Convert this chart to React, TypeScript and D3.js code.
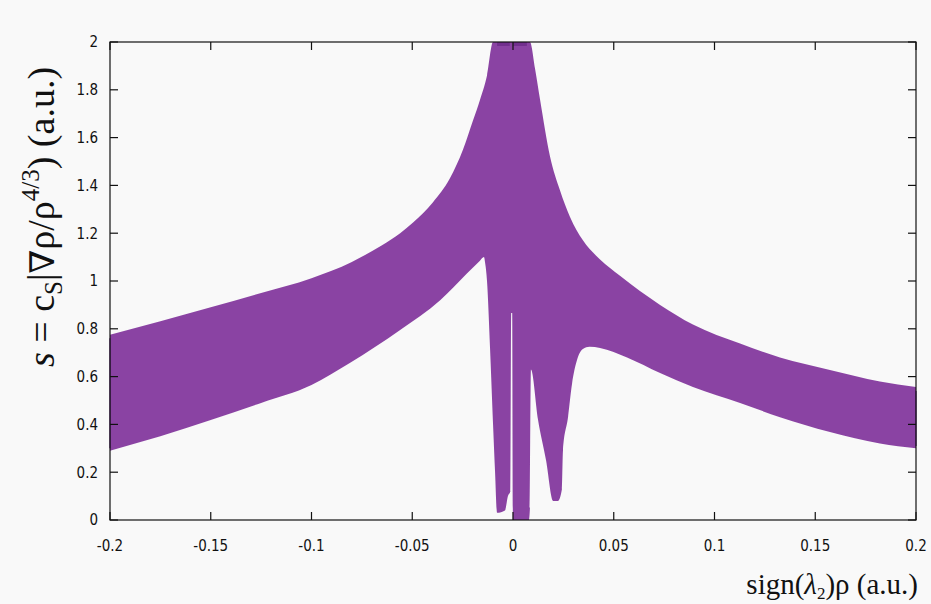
import React from 'react';
import * as d3 from 'd3';

// ---- data ----
const xTicks = [-0.2, -0.15, -0.1, -0.05, 0, 0.05, 0.1, 0.15, 0.2];
const xTickLabels = ['-0.2', '-0.15', '-0.1', '-0.05', '0', '0.05', '0.1', '0.15', '0.2'];
const yTicks = [0, 0.2, 0.4, 0.6, 0.8, 1, 1.2, 1.4, 1.6, 1.8, 2];
const yTickLabels = ['0', '0.2', '0.4', '0.6', '0.8', '1', '1.2', '1.4', '1.6', '1.8', '2'];

// upper envelope of the scattered points (sign(l2)rho, s)
const upperX = [-0.2, -0.175, -0.15, -0.125, -0.1, -0.08, -0.065, -0.056, -0.0496, -0.0397, -0.0313, -0.0248, -0.0199, -0.0164, -0.0129, -0.0099,
  0.0084, 0.0109, 0.0134, 0.0184, 0.0233, 0.0283, 0.0347, 0.0432, 0.0531, 0.063, 0.073, 0.0893, 0.1127, 0.1325, 0.1573, 0.1821, 0.2];
const upperS = [0.775, 0.832, 0.89, 0.95, 1.012, 1.08, 1.15, 1.2, 1.245, 1.33, 1.43, 1.55, 1.67, 1.757, 1.86, 2.0,
  2.0, 1.89, 1.76, 1.52, 1.38, 1.268, 1.17, 1.09, 1.022, 0.958, 0.9, 0.818, 0.738, 0.68, 0.628, 0.58, 0.557];

// lower envelope (including the three dips towards s = 0)
const lowerX = [-0.2, -0.175, -0.15, -0.125, -0.1, -0.081, -0.056, -0.036, -0.023, -0.0164, -0.0144, -0.0139, -0.0129, -0.0114, -0.0099,
  -0.0089, -0.0079, -0.004, -0.0025, -0.0013, -0.0009, -0.0004, -0.0001, 0.0, 0.0035, 0.0069, 0.0079, 0.0084, 0.0089, 0.0124, 0.0164,
  0.0199, 0.0223, 0.0243, 0.0248, 0.0273, 0.0293, 0.0318, 0.0347, 0.038, 0.0432, 0.0566, 0.073, 0.0893, 0.1127, 0.1325, 0.1573, 0.1821, 0.2];
const lowerS = [0.29, 0.35, 0.418, 0.49, 0.565, 0.657, 0.795, 0.92, 1.03, 1.085, 1.1, 1.08, 1.0, 0.72, 0.4,
  0.2, 0.03, 0.04, 0.1, 0.12, 0.866, 0.866, 0.05, 0.0, 0.0, 0.0, 0.0, 0.05, 0.63, 0.42, 0.25,
  0.08, 0.08, 0.13, 0.29, 0.43, 0.57, 0.67, 0.715, 0.725, 0.72, 0.68, 0.615, 0.557, 0.49, 0.43, 0.368, 0.32, 0.3];

// points piled up on the plot boundary (drawn darker)
const capStart = [-0.0079, 0.0001];
const capEnd = [-0.0016, 0.0069];
const edgeX = [-0.2, 0.2];
const edgeLow = [0.3, 0.31];
const edgeHigh = [0.76, 0.54];

const W = 931;
const H = 604;
const L = 110, R = 916, T = 42, B = 520;

export default function App() {
  const x = d3.scaleLinear().domain([-0.2, 0.2]).range([L, R]);
  const y = d3.scaleLinear().domain([0, 2]).range([B, T]);

  const upperArea = d3.area<number>()
    .x((d, i) => x(upperX[i]))
    .y0(B + 10)
    .y1((d) => y(d))
    .curve(d3.curveMonotoneX)(upperS) || '';
  const lowerArea = d3.area<number>()
    .x((d, i) => x(lowerX[i]))
    .y0(B + 10)
    .y1((d) => y(d))
    .curve(d3.curveMonotoneX)(lowerS) || '';

  const fill = '#8a43a3';
  const dark = '#5e1f7e';
  const tickFont = "'DejaVu Sans Condensed', 'DejaVu Sans', sans-serif";
  const serif = "'Liberation Serif', 'DejaVu Serif', serif";
  const tl = 8;

  return (
    <svg width={W} height={H} style={{ position: 'absolute', left: 0, top: 0, background: '#f9f9f9' }}>
      <rect x={0} y={0} width={W} height={H} fill="#f9f9f9" />
      <defs>
        <clipPath id="plotclip">
          <rect x={L - 3} y={T} width={R - L + 6} height={B - T + 3} />
        </clipPath>
        <mask id="cloud" maskUnits="userSpaceOnUse" x={0} y={0} width={W} height={H}>
          <path d={upperArea} fill="white" />
          <path d={lowerArea} fill="black" />
        </mask>
      </defs>
      <g clipPath="url(#plotclip)">
        <rect x={L - 3} y={T} width={R - L + 6} height={B - T + 5} fill={fill} mask="url(#cloud)" />
        {edgeX.map((v, i) => (
          <line key={'e' + i} x1={x(v)} x2={x(v)} y1={y(edgeLow[i])} y2={y(edgeHigh[i])} stroke={dark} strokeWidth={2} opacity={0.6} />
        ))}
        {capStart.map((v, i) => (
          <rect key={'c' + i} x={x(v)} y={y(2) - 2} width={x(capEnd[i]) - x(v)} height={6} fill={dark} opacity={0.55} />
        ))}
      </g>
      {/* frame */}
      <rect x={L} y={T} width={R - L} height={B - T} fill="none" stroke="#111" strokeWidth={1.2} />
      {/* x ticks */}
      {xTicks.map((v, i) => (
        <g key={'xt' + i}>
          <line x1={x(v)} x2={x(v)} y1={B} y2={B - tl} stroke="#111" strokeWidth={1.2} />
          <line x1={x(v)} x2={x(v)} y1={T} y2={T + tl} stroke="#111" strokeWidth={1.2} />
          <text x={x(v)} y={551} textAnchor="middle" fontFamily={tickFont} fontSize={15} fill="#111">{xTickLabels[i]}</text>
        </g>
      ))}
      {/* y ticks */}
      {yTicks.map((v, i) => (
        <g key={'yt' + i}>
          <line x1={L} x2={L + tl} y1={y(v)} y2={y(v)} stroke="#111" strokeWidth={1.2} />
          <line x1={R} x2={R - tl} y1={y(v)} y2={y(v)} stroke="#111" strokeWidth={1.2} />
          <text x={98} y={y(v)} dy="0.36em" textAnchor="end" fontFamily={tickFont} fontSize={15} fill="#111">{yTickLabels[i]}</text>
        </g>
      ))}
      {/* y label */}
      <g transform="translate(54,217) rotate(-90)">
        <text x={0} y={0} textAnchor="middle" fontSize={38} fill="#111" fontFamily={serif}>
          <tspan fontStyle="italic" fontFamily={serif}>s</tspan>
          <tspan fontFamily={serif}> = c</tspan>
          <tspan fontFamily={serif} fontSize={25} dy={8}>S</tspan>
          <tspan fontFamily={serif} dy={-8}>|</tspan>
          <tspan fontFamily="'DejaVu Serif', serif" fontSize={34}>∇</tspan>
          <tspan fontFamily={serif}>ρ/ρ</tspan>
          <tspan fontFamily={serif} fontSize={25} dy={-15}>4/3</tspan>
          <tspan fontFamily={serif} dy={15}>) (a.u.)</tspan>
        </text>
      </g>
      {/* x label */}
      <text x={918} y={594} textAnchor="end" fontFamily={serif} fontSize={29} fill="#111">
        <tspan>sign(</tspan>
        <tspan fontStyle="italic">λ</tspan>
        <tspan fontSize={17} dy={5}>2</tspan>
        <tspan dy={-5}>)ρ (a.u.)</tspan>
      </text>
    </svg>
  );
}
